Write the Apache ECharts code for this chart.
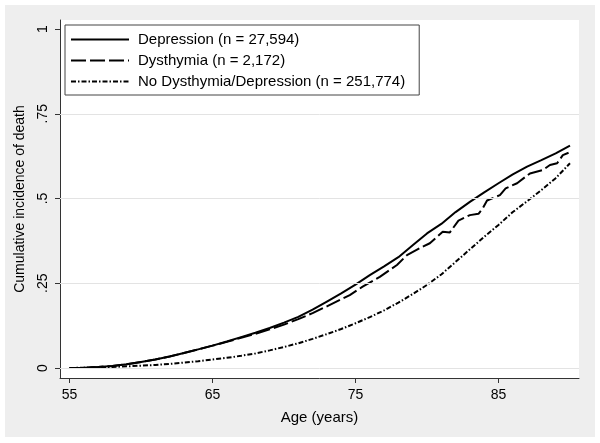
<!DOCTYPE html>
<html><head><meta charset="utf-8">
<script src="https://cdn.jsdelivr.net/npm/echarts@6/dist/echarts.min.js"></script>
<style>html,body{margin:0;padding:0;background:#fff}#c{width:600px;height:443px}</style>
</head><body><div id="c"></div>
<script>
// ---- data ----
const seriesNames = ['Depression (n = 27,594)', 'Dysthymia (n = 2,172)', 'No Dysthymia/Depression (n = 251,774)'];
const xTicks = [55, 65, 75, 85];
const yTicks = [0, 0.25, 0.5, 0.75, 1];
const yTickLabels = ['0', '.25', '.5', '.75', '1'];
const yGrid = [0, 0.25, 0.5, 0.75];

const depAges = [55,56,57,58,59,60,61,62,63,64,65,66,67,68,69,70,71,72,73,74,75,76,77,78,79,80,81,82,83,84,85,86,87,88,89,90];
const depVals = [0,0.001,0.003,0.006,0.011,0.018,0.025,0.034,0.044,0.055,0.066,0.078,0.091,0.104,0.118,0.134,0.151,0.172,0.196,0.22,0.246,0.274,0.30,0.327,0.362,0.397,0.425,0.46,0.49,0.518,0.545,0.571,0.594,0.613,0.633,0.656];

const dysAges = [55,56,57,58,59,60,61,62,63,64,65,66,67,68,69,70,71,72,73,74,74.6,75.5,76.7,77.9,78.6,79.7,80.2,81.1,81.6,82.2,83.0,83.6,83.9,84.2,85.1,85.5,86.3,87.2,88.1,88.6,89.1,89.5,89.9];
const dysVals = [0,0.001,0.003,0.006,0.011,0.018,0.025,0.034,0.044,0.055,0.066,0.077,0.089,0.101,0.114,0.128,0.144,0.162,0.182,0.203,0.215,0.24,0.269,0.304,0.333,0.358,0.368,0.402,0.40,0.435,0.451,0.455,0.471,0.494,0.51,0.53,0.545,0.574,0.584,0.599,0.604,0.628,0.635];

const noneAges = [55,56,57,58,59,60,61,62,63,64,65,66,67,68,69,70,71,72,73,74,75,76,77,78,79,80,81,82,83,84,85,86,87,88,89,90];
const noneVals = [0,0.001,0.002,0.003,0.005,0.007,0.009,0.012,0.016,0.02,0.025,0.03,0.036,0.043,0.052,0.062,0.073,0.086,0.1,0.115,0.132,0.15,0.17,0.193,0.218,0.245,0.276,0.313,0.35,0.387,0.422,0.46,0.492,0.525,0.56,0.604];

function pairs(a, v) { return a.map((x, i) => [x, v[i]]); }

const font = 'Liberation Sans, Arial, Helvetica, sans-serif';
const chart = echarts.init(document.getElementById('c'), null, {renderer: 'canvas'});
chart.setOption({
  backgroundColor: '#ffffff',
  animation: false,
  textStyle: {fontFamily: font, color: '#000'},
  graphic: [{type: 'rect', shape: {x: 5, y: 5, width: 590, height: 432}, style: {fill: '#eeeeee'}, z: -10, silent: true}],
  grid: {left: 60, top: 20, right: 21, bottom: 65, show: true, backgroundColor: '#ffffff', borderWidth: 0},
  legend: {
    orient: 'vertical', left: 65, top: 25,
    data: [
      {name: seriesNames[0]},
      {name: seriesNames[1]},
      {name: seriesNames[2], lineStyle: {width: 1.8}}
    ],
    itemWidth: 58, itemHeight: 14, itemGap: 4,
    padding: [6, 14, 5, 5],
    itemStyle: {opacity: 0},
    backgroundColor: '#ffffff', borderColor: '#444', borderWidth: 1, borderRadius: 0,
    textStyle: {fontSize: 15, fontFamily: font, color: '#000', lineHeight: 17, padding: [0, 0, 0, 4]},
    selectedMode: false
  },
  xAxis: {
    type: 'value', min: 54.336, max: 90.63,
    name: 'Age (years)', nameLocation: 'middle', nameGap: 32,
    nameTextStyle: {fontSize: 15, fontFamily: font, color: '#000'},
    axisLine: {show: true, onZero: false, lineStyle: {color: '#333', width: 1}},
    axisTick: {show: true, length: 5, customValues: xTicks, lineStyle: {color: '#333'}},
    axisLabel: {customValues: xTicks, fontSize: 14, margin: 10, color: '#000', fontFamily: font},
    splitLine: {show: false}
  },
  yAxis: {
    type: 'value', min: -0.0295, max: 1.0266,
    name: 'Cumulative incidence of death', nameLocation: 'middle', nameGap: 33, nameRotate: 90,
    nameTextStyle: {fontSize: 14, fontFamily: font, color: '#000'},
    axisLine: {show: true, onZero: false, lineStyle: {color: '#333', width: 1}},
    axisTick: {show: true, length: 5, customValues: yTicks, lineStyle: {color: '#333'}},
    axisLabel: {customValues: yTicks, rotate: 90, fontSize: 14, margin: 10, color: '#000', fontFamily: font,
      formatter: v => { const i = yTicks.findIndex(t => Math.abs(t - v) < 1e-9); return i >= 0 ? yTickLabels[i] : ''; }},
    splitLine: {show: false}
  },
  series: [
    {
      name: '__grid', type: 'line', data: [], silent: true, z: 1,
      markLine: {silent: true, symbol: 'none', label: {show: false},
        lineStyle: {type: 'solid', color: '#e3e3e3', width: 1},
        data: yGrid.map(v => ({yAxis: v}))}
    },
    {name: seriesNames[0], type: 'line', data: pairs(depAges, depVals), symbol: 'none', showSymbol: false, z: 3,
      lineStyle: {color: '#000', width: 2, type: 'solid'}, itemStyle: {color: '#000'}},
    {name: seriesNames[1], type: 'line', data: pairs(dysAges, dysVals), symbol: 'none', showSymbol: false, z: 3,
      lineStyle: {color: '#000', width: 2, type: [15, 4]}, itemStyle: {color: '#000'}},
    {name: seriesNames[2], type: 'line', data: pairs(noneAges, noneVals), symbol: 'none', showSymbol: false, z: 3,
      lineStyle: {color: '#000', width: 2, type: [5, 2, 1.5, 2]}, itemStyle: {color: '#000'}}
  ]
});
</script></body></html>
